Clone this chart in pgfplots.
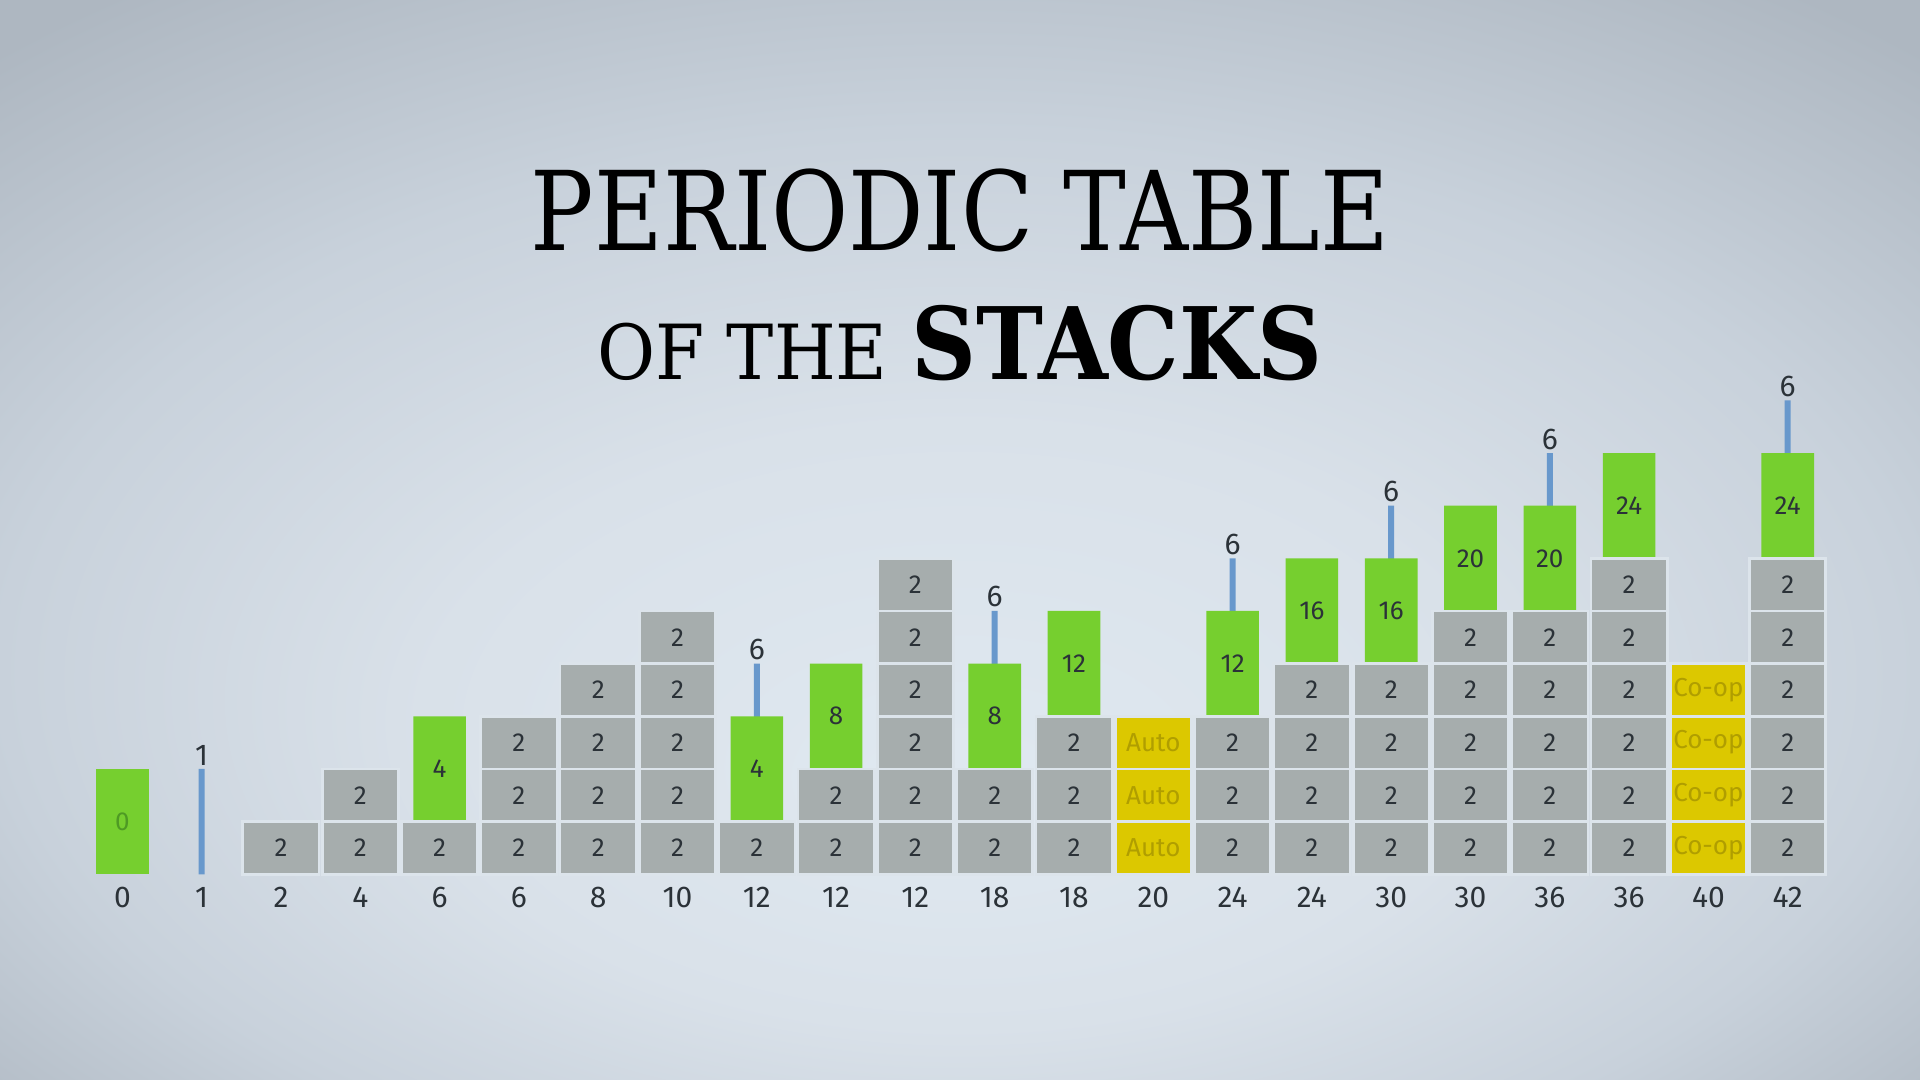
\documentclass[border=0pt]{standalone}
\usepackage{pgfplots}
\pgfplotsset{compat=1.18}
\usepackage{fontspec}
\setmainfont{Fira Sans}
\newfontfamily\titlefont{DejaVu Serif Condensed}

\definecolor{blockgrey}{HTML}{A6ADAD}
\definecolor{gap}{HTML}{DCE4EB}
\definecolor{stackgreen}{HTML}{76CF2F}
\definecolor{darkgreen}{HTML}{4E9A24}
\definecolor{autoyellow}{HTML}{DCC800}
\definecolor{yellowtext}{HTML}{B09E00}
\definecolor{lineblue}{HTML}{6898CC}
\definecolor{ink}{HTML}{2B3238}

% sky: light in the lower middle, darker towards the corners
\pgfdeclareradialshading{sky}{\pgfpoint{0bp}{-12bp}}{%
  rgb(0bp)=(0.878,0.914,0.945);
  rgb(14bp)=(0.851,0.882,0.914);
  rgb(25bp)=(0.784,0.820,0.859);
  rgb(36bp)=(0.682,0.718,0.757);
  rgb(50bp)=(0.682,0.718,0.757)}

\begin{document}
\begin{tikzpicture}
% background, 1px = 0.5pt
\shade[shading=sky] (0,0) rectangle (960pt,540pt);
\useasboundingbox (0,0) rectangle (960pt,540pt);

% title
\node[anchor=base] at (480pt,414.5pt)
  {\scalebox{0.952}[1]{\titlefont\fontsize{55}{55}\selectfont PERIODIC TABLE}};
\node[anchor=base] at (480pt,350.2pt)
  {\scalebox{1.036}[1]{\titlefont\fontsize{38}{38}\selectfont OF THE}\hspace{12pt}%
   {\titlefont\bfseries\fontsize{50}{50}\selectfont STACKS}};

\begin{axis}[
    at={(41.37pt,102.85pt)}, anchor=south west,
    x=39.65pt, y=26.33pt,
    xmin=-0.5, xmax=21.5, ymin=0, ymax=10,
    axis line style={draw=none},
    major tick length=0pt,
    ytick=\empty,
    xtick={0,...,21},
    xticklabels={0,1,2,4,6,6,8,10,12,12,12,18,18,20,24,24,30,30,36,36,40,42},
    xticklabel style={anchor=base, yshift=-16.65pt, text=ink,
        font=\fontsize{15}{15}\selectfont},
    /pgf/number format/assume math mode=true,
    clip=false,
    ybar, bar shift=0pt,
    point meta=explicit symbolic,
    nodes near coords,
    block/.style={fill=blockgrey, draw=gap, line width=1.4pt, bar width=38.1pt,
        nodes near coords={2},
        nodes near coords style={anchor=center, yshift=-13.17pt, text=ink,
            font=\fontsize{13}{13}\selectfont}},
    coop/.style={fill=autoyellow, draw=gap, line width=1.4pt, bar width=38.1pt,
        nodes near coords style={anchor=center, yshift=-13.17pt, text=yellowtext,
            font=\fontsize{13}{13}\selectfont}},
]

% blue fixed-size parts (top of stack)
\addplot[fill=lineblue, draw=none, bar width=3pt,
    nodes near coords style={anchor=center, yshift=7pt, text=ink,
        font=\fontsize{15}{15}\selectfont}]
    coordinates {(1,2)[1] (8,4)[6] (11,5)[6] (14,6)[6] (16,7)[6] (18,8)[6] (21,9)[6]};

% green variable parts
\addplot[fill=stackgreen, draw=none, bar width=26.3pt,
    nodes near coords style={anchor=center, yshift=-26.33pt, text=darkgreen,
        font=\fontsize{13}{13}\selectfont}]
    coordinates {(0,2)[0]};
\addplot[fill=stackgreen, draw=none, bar width=26.3pt,
    nodes near coords style={anchor=center, yshift=-26.33pt, text=ink,
        font=\fontsize{13}{13}\selectfont}]
    coordinates {(4,3)[4] (8,3)[4] (9,4)[8] (11,4)[8] (12,5)[12] (14,5)[12]
                 (15,6)[16] (16,6)[16] (17,7)[20] (18,7)[20] (19,8)[24] (21,8)[24]};

% grey blocks of 2, one level at a time (tallest first)
\addplot[block] coordinates {(10,6) (19,6) (21,6)};
\addplot[block] coordinates {(7,5) (10,5) (17,5) (18,5) (19,5) (21,5)};
\addplot[block] coordinates {(6,4) (7,4) (10,4) (15,4) (16,4) (17,4) (18,4) (19,4) (21,4)};
\addplot[block] coordinates {(5,3) (6,3) (7,3) (10,3) (12,3) (14,3) (15,3) (16,3)
                             (17,3) (18,3) (19,3) (21,3)};
\addplot[block] coordinates {(3,2) (5,2) (6,2) (7,2) (9,2) (10,2) (11,2) (12,2) (14,2)
                             (15,2) (16,2) (17,2) (18,2) (19,2) (21,2)};
\addplot[block] coordinates {(2,1) (3,1) (4,1) (5,1) (6,1) (7,1) (8,1) (9,1) (10,1)
                             (11,1) (12,1) (14,1) (15,1) (16,1) (17,1) (18,1) (19,1) (21,1)};

% Auto and Co-op blocks
\addplot[coop] coordinates {(20,4)[Co-op]};
\addplot[coop] coordinates {(13,3)[Auto] (20,3)[Co-op]};
\addplot[coop] coordinates {(13,2)[Auto] (20,2)[Co-op]};
\addplot[coop] coordinates {(13,1)[Auto] (20,1)[Co-op]};
\end{axis}
\end{tikzpicture}
\end{document}
